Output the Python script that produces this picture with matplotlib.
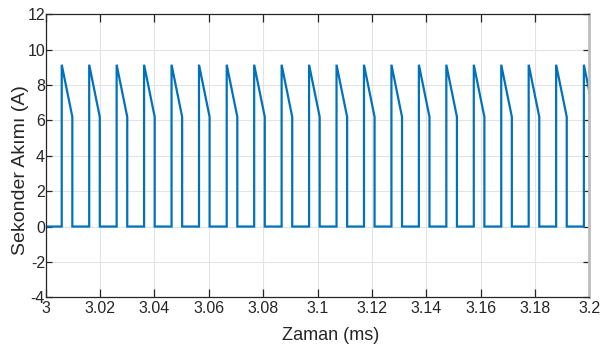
"""
  secondary current pulse train, 3.0 - 3.2 ms
"""
import numpy as np
from matplotlib import pyplot as plt

# pulse edges (ms)
rise_t=[3.0059,3.0160,3.0261,3.0362,3.0463,3.0564,3.0666,3.0767,3.0868,3.0969,
        3.1070,3.1171,3.1272,3.1373,3.1474,3.1575,3.1676,3.1777,3.1878,3.1980]
fall_t=[3.0098,3.0199,3.0300,3.0401,3.0502,3.0603,3.0705,3.0806,3.0907,3.1008,
        3.1109,3.1210,3.1311,3.1412,3.1513,3.1614,3.1715,3.1816,3.1917,3.2019]
peak_a=[9.15]*20    # current right after turn on (A)
end_a=[6.2]*20      # current right before turn off (A)

xticks=[3,3.02,3.04,3.06,3.08,3.1,3.12,3.14,3.16,3.18,3.2]
xticklabels=['3','3.02','3.04','3.06','3.08','3.1','3.12','3.14','3.16','3.18','3.2']
yticks=[-4,-2,0,2,4,6,8,10,12]

#build the trace point by point
t=[3.0]
i=[0.]
for k in range(len(rise_t)):
    t+=[rise_t[k],rise_t[k],fall_t[k],fall_t[k]]
    i+=[0.,peak_a[k],end_a[k],0.]
t=np.array(t)
i=np.array(i)

plt.rcParams['axes.unicode_minus']=False
narrow=['Liberation Sans Narrow','Liberation Sans','DejaVu Sans']
regular=['Liberation Sans','DejaVu Sans']

W,H=614,350
fig=plt.figure(figsize=(W/100,H/100),dpi=100)
ax=fig.add_axes([45.7/W,1-297.3/H,(589.3-45.7)/W,(297.3-14.3)/H])

ax.plot(t,i,color='#0072BD',lw=1.6,solid_joinstyle='miter')
ax.set_xlim(3,3.2)
ax.set_ylim(-4,12)
ax.set_xticks(xticks)
ax.set_xticklabels(xticklabels)
ax.set_yticks(yticks)
ax.grid(True,color='#e3e3e3',lw=0.8)
ax.set_axisbelow(True)

for lab in ax.get_xticklabels()+ax.get_yticklabels():
    lab.set_family(narrow)
    lab.set_fontsize(11.5)
    lab.set_color('#262626')
ax.tick_params(axis='x',direction='in',length=6,width=0.9,pad=3,
               top=True,color='#262626')
ax.tick_params(axis='y',direction='in',length=4,width=0.9,pad=0.5,
               right=True,color='#262626')
for side in ['left','bottom','top']:
    ax.spines[side].set_color('#262626')
    ax.spines[side].set_linewidth(0.9)
ax.spines['right'].set_color('#bdbdbd')
ax.spines['right'].set_linewidth(2.0)

fig.text(331/W,1-335/H,'Zaman (ms)',ha='center',va='center',
         fontsize=13,family=narrow,color='#262626')
fig.text(21/W,1-170/H,'Sekonder Akımı (A)',ha='center',va='center',
         rotation=90,fontsize=14,family=regular,color='#262626')

fig.savefig('out.png',dpi=100)
